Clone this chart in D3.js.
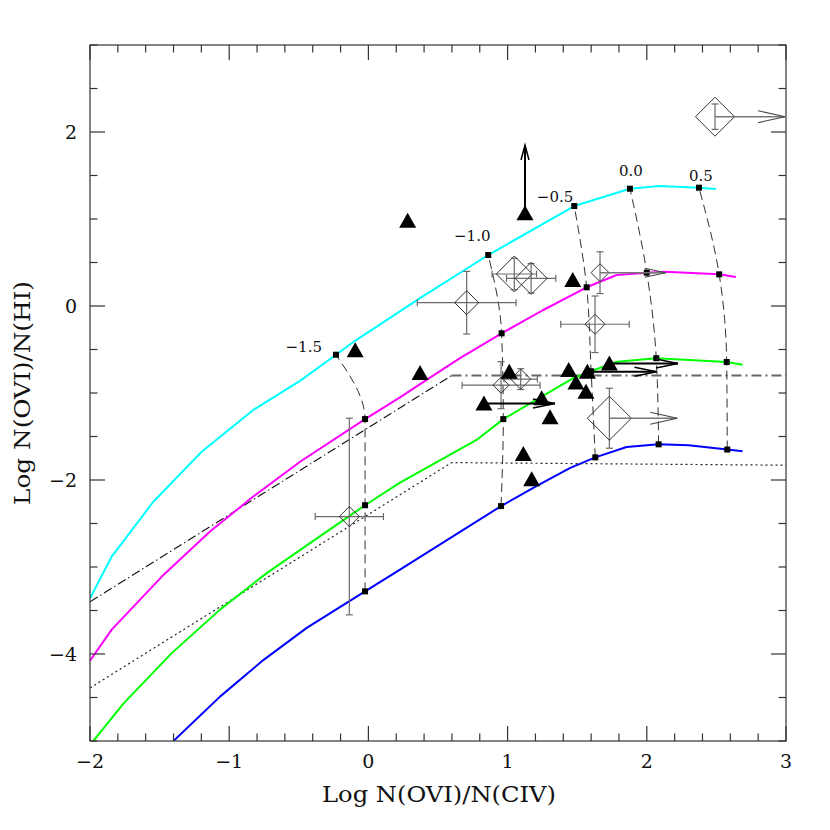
<!DOCTYPE html>
<html><head><meta charset="utf-8">
<script src="https://cdn.jsdelivr.net/npm/d3@7"></script>
<style>body{margin:0;background:#fff}svg{display:block}</style>
</head><body>
<script>
// ---------- data ----------
const xDomain = [-2, 3];
const yDomain = [-5, 3];
const xTickLabels = [-2, -1, 0, 1, 2, 3];
const yTickLabels = [-4, -2, 0, 2];

const curveCyan = [[-2,-3.36],[-1.844,-2.88],[-1.545,-2.25],[-1.198,-1.675],[-0.827,-1.195],[-0.491,-0.86],[-0.233,-0.56],[-0.096,-0.40],[0.371,0.09],[0.861,0.586],[1.479,1.149],[1.879,1.348],[2.09,1.38],[2.375,1.36],[2.497,1.345]];
const curveMagenta = [[-2,-4.077],[-1.844,-3.72],[-1.484,-3.11],[-1.136,-2.59],[-0.827,-2.19],[-0.491,-1.79],[-0.024,-1.30],[0.227,-1.05],[0.418,-0.85],[0.658,-0.60],[0.957,-0.314],[1.256,-0.046],[1.568,0.215],[1.783,0.356],[2.0,0.383],[2.13,0.394],[2.52,0.364],[2.64,0.333]];
const curveGreen = [[-1.976,-5.0],[-1.76,-4.57],[-1.413,-3.99],[-1.066,-3.49],[-0.73,-3.07],[-0.396,-2.70],[-0.024,-2.29],[0.227,-2.03],[0.777,-1.54],[0.969,-1.30],[1.472,-0.83],[1.60,-0.75],[1.785,-0.64],[2.068,-0.60],[2.574,-0.644],[2.688,-0.675]];
const curveBlue = [[-1.40,-5.0],[-1.066,-4.49],[-0.755,-4.07],[-0.443,-3.70],[-0.024,-3.28],[0.227,-3.03],[0.953,-2.30],[1.22,-2.06],[1.45,-1.86],[1.63,-1.74],[1.855,-1.62],[2.085,-1.59],[2.3,-1.60],[2.578,-1.65],[2.688,-1.67]];

const dashDotLine = [[-2,-3.40],[0.597,-0.80],[3,-0.80]];
const dottedLine = [[-2,-4.39],[0.598,-1.80],[3,-1.83]];

const gridLabels = ["\u22121.5","\u22121.0","\u22120.5","0.0","0.5"];
const gridNodes = [
  [[-0.233,-0.56],[-0.024,-1.30],[-0.024,-2.29],[-0.024,-3.28]],
  [[0.861,0.586],[0.957,-0.314],[0.969,-1.30],[0.953,-2.30]],
  [[1.479,1.149],[1.568,0.215],[1.60,-0.75],[1.63,-1.74]],
  [[1.879,1.348],[2.0,0.383],[2.068,-0.60],[2.085,-1.59]],
  [[2.375,1.36],[2.52,0.364],[2.574,-0.644],[2.578,-1.65]]
];

const triangles = [[0.282,0.98],[1.125,1.065],[-0.095,-0.51],[0.371,-0.77],[1.468,0.30],[1.012,-0.755],[0.83,-1.12],[1.245,-1.06],[1.305,-1.28],[1.439,-0.736],[1.573,-0.755],[1.491,-0.88],[1.563,-0.985],[1.731,-0.66],[1.113,-1.70],[1.173,-1.99]];
// lower limits: [x, y, limit end]
const triUpperArrows = [[1.125,1.065,1.85]];
const triRightArrows = [[0.83,-1.12,1.34],[1.573,-0.755,2.07],[1.731,-0.66,2.224]];

// diamonds: x, y, x-error, y-error
const diamondX  = [0.706,1.048,1.169,1.664,1.628,0.953,1.094,1.731,-0.137,2.49];
const diamondY  = [0.038,0.368,0.318,0.383,-0.21,-0.91,-0.84,-1.29,-2.42,2.176];
const diamondEX = [0.355,0.16,0.177,0,0.246,0.28,0.12,0,0.245,0];
const diamondEY = [0.36,0.18,0.17,0.24,0.325,0.27,0.12,0.345,1.13,0.146];
const diamondWeight = [12,18,16,9,10,8,10,22,10,19.5];
// diamonds that are lower limits in x: [index, limit end]
const diamondRightArrows = [[3,2.143],[7,2.226],[9,3.0]];

// ---------- layout ----------
const W = 830, H = 830;
const L = 90, R = 786, T = 45, B = 741;
const labelOffsets = [[-14,-3,"end"],[-16,-14,"middle"],[-1,-4,"end"],[1,-13,"middle"],[2,-7,"middle"]];

const svg = d3.select("body").append("svg").attr("width", W).attr("height", H)
  .style("font-family", "'DejaVu Serif', 'Liberation Serif', serif");

const x = d3.scaleLinear().domain(xDomain).range([L, R]);
const y = d3.scaleLinear().domain(yDomain).range([B, T]);
const sz = d3.scaleLinear().domain([0, 22]).range([0, 22]);

svg.append("defs").append("clipPath").attr("id", "clip")
  .append("rect").attr("x", L).attr("y", T).attr("width", R - L).attr("height", B - T);

const plot = svg.append("g").attr("clip-path", "url(#clip)");
const line = d3.line().x(d => x(d[0])).y(d => y(d[1]));

// reference lines
plot.append("path").attr("d", line(dashDotLine.slice(0, 2))).attr("fill", "none")
  .attr("stroke", "#111").attr("stroke-width", 1.1).attr("stroke-dasharray", "9,3,1.5,3");
plot.append("path").attr("d", line(dashDotLine.slice(1))).attr("fill", "none")
  .attr("stroke", "#666").attr("stroke-width", 2).attr("stroke-dasharray", "10,4,2,4");
plot.append("path").attr("d", line(dottedLine)).attr("fill", "none")
  .attr("stroke", "#222").attr("stroke-width", 1.2).attr("stroke-dasharray", "2,3");

// grid dashed lines
const gridLine = d3.line().x(d => x(d[0])).y(d => y(d[1])).curve(d3.curveMonotoneY);
gridNodes.forEach(nodes => {
  plot.append("path").attr("d", gridLine(nodes.slice().reverse())).attr("fill", "none")
    .attr("stroke", "#333").attr("stroke-width", 1).attr("stroke-dasharray", "9,5");
});

// model curves
[[curveCyan, "#00ffff"], [curveMagenta, "#ff00ff"], [curveGreen, "#00ff00"], [curveBlue, "#0000ff"]]
  .forEach(([data, col]) => {
    plot.append("path").attr("d", line(data)).attr("fill", "none")
      .attr("stroke", col).attr("stroke-width", 2).attr("stroke-linejoin", "round");
  });

// grid markers
gridNodes.forEach(nodes => nodes.forEach(d => {
  plot.append("rect").attr("x", x(d[0]) - 3).attr("y", y(d[1]) - 3)
    .attr("width", 6).attr("height", 6).attr("fill", "#000");
}));
// grid labels
gridLabels.forEach((lab, i) => {
  const n = gridNodes[i][0];
  const o = labelOffsets[i];
  svg.append("text").attr("x", x(n[0]) + o[0]).attr("y", y(n[1]) + o[1])
    .attr("text-anchor", o[2]).attr("font-size", 15).attr("fill", "#111").text(lab);
});

function arrowHead(g, tx, ty, dx, dy, len, hw, col, sw) {
  const px = -dy, py = dx;
  g.append("polyline")
    .attr("points", [[tx - len*dx + hw*px, ty - len*dy + hw*py], [tx, ty], [tx - len*dx - hw*px, ty - len*dy - hw*py]].map(p => p.join(",")).join(" "))
    .attr("fill", "none").attr("stroke", col).attr("stroke-width", sw);
}

// diamonds with error bars
const eCol = "#6a6a6a", cap = 3.5;
diamondX.forEach((dx0, i) => {
  const cx = x(dx0), cy = y(diamondY[i]);
  const g = plot.append("g");
  if (diamondEX[i] > 0) {
    const x1 = x(dx0 - diamondEX[i]), x2 = x(dx0 + diamondEX[i]);
    g.append("line").attr("x1", x1).attr("x2", x2).attr("y1", cy).attr("y2", cy).attr("stroke", eCol).attr("stroke-width", 1.2);
    [x1, x2].forEach(xx => g.append("line").attr("x1", xx).attr("x2", xx).attr("y1", cy - cap).attr("y2", cy + cap).attr("stroke", eCol).attr("stroke-width", 1.2));
  }
  if (diamondEY[i] > 0) {
    const y1 = y(diamondY[i] - diamondEY[i]), y2 = y(diamondY[i] + diamondEY[i]);
    g.append("line").attr("x1", cx).attr("x2", cx).attr("y1", y1).attr("y2", y2).attr("stroke", eCol).attr("stroke-width", 1.2);
    [y1, y2].forEach(yy => g.append("line").attr("x1", cx - cap).attr("x2", cx + cap).attr("y1", yy).attr("y2", yy).attr("stroke", eCol).attr("stroke-width", 1.2));
  }
  const s = sz(diamondWeight[i]);
  g.append("path").attr("d", `M${cx},${cy - s}L${cx + s},${cy}L${cx},${cy + s}L${cx - s},${cy}Z`)
    .attr("fill", "none").attr("stroke", "#333").attr("stroke-width", 1);
});
diamondRightArrows.forEach(([i, xe]) => {
  const cx = x(diamondX[i]), cy = y(diamondY[i]), tx = x(xe) - 1;
  plot.append("line").attr("x1", cx).attr("x2", tx).attr("y1", cy).attr("y2", cy)
    .attr("stroke", "#777").attr("stroke-width", 1.5);
  const big = diamondWeight[i] > 15;
  arrowHead(plot, tx, cy, 1, 0, big ? 27 : 21, big ? 6 : 4.5, "#444", 1.1);
});

// triangle limits
triUpperArrows.forEach(d => {
  const cx = x(d[0]), y1 = y(d[1]), y2 = y(d[2]);
  svg.append("line").attr("x1", cx).attr("x2", cx).attr("y1", y1).attr("y2", y2).attr("stroke", "#000").attr("stroke-width", 2);
  arrowHead(svg, cx, y2, 0, -1, 15, 4, "#000", 1.5);
});
triRightArrows.forEach(d => {
  const cy = y(d[1]), x1 = x(d[0]), x2 = x(d[2]);
  svg.append("line").attr("x1", x1).attr("x2", x2).attr("y1", cy).attr("y2", cy).attr("stroke", "#000").attr("stroke-width", 2);
  arrowHead(svg, x2, cy, 1, 0, 22, 4.5, "#000", 1.6);
});

// triangles
svg.append("g").selectAll("path").data(triangles).join("path")
  .attr("d", d => `M${x(d[0])},${y(d[1]) - 8}L${x(d[0]) + 8.5},${y(d[1]) + 7}L${x(d[0]) - 8.5},${y(d[1]) + 7}Z`)
  .attr("fill", "#000");

// ---------- frame & ticks ----------
const frame = svg.append("g").attr("stroke", "#333").attr("stroke-width", 1.2);
frame.append("rect").attr("x", L).attr("y", T).attr("width", R - L).attr("height", B - T).attr("fill", "none");
const xMinor = d3.range(-2, 3.0001, 0.2);
xMinor.forEach(v => {
  const major = Math.abs(v - Math.round(v)) < 1e-6;
  const len = major ? 15 : 7.5;
  frame.append("line").attr("x1", x(v)).attr("x2", x(v)).attr("y1", B).attr("y2", B - len);
  frame.append("line").attr("x1", x(v)).attr("x2", x(v)).attr("y1", T).attr("y2", T + len);
});
const yMinor = d3.range(-5, 3.0001, 0.5);
yMinor.forEach(v => {
  const major = Math.abs(v / 2 - Math.round(v / 2)) < 1e-6;
  const len = major ? 15 : 7.5;
  frame.append("line").attr("y1", y(v)).attr("y2", y(v)).attr("x1", L).attr("x2", L + len);
  frame.append("line").attr("y1", y(v)).attr("y2", y(v)).attr("x1", R).attr("x2", R - len);
});

const fmt = v => (v < 0 ? "\u2212" + Math.abs(v) : String(v));
svg.append("g").selectAll("text").data(xTickLabels).join("text")
  .attr("x", d => x(d)).attr("y", 768).attr("text-anchor", "middle")
  .attr("font-size", 19).attr("fill", "#111").text(fmt);
svg.append("g").selectAll("text").data(yTickLabels).join("text")
  .attr("x", 77).attr("y", d => y(d) + 7).attr("text-anchor", "end")
  .attr("font-size", 19).attr("fill", "#111").text(fmt);

svg.append("text").attr("x", 439).attr("y", 802).attr("text-anchor", "middle")
  .attr("font-size", 22).attr("fill", "#111")
  .attr("textLength", 234).attr("lengthAdjust", "spacingAndGlyphs")
  .text("Log N(OVI)/N(CIV)");
svg.append("text").attr("transform", "translate(30,393) rotate(-90)").attr("text-anchor", "middle")
  .attr("font-size", 22).attr("fill", "#111")
  .attr("textLength", 224).attr("lengthAdjust", "spacingAndGlyphs")
  .text("Log N(OVI)/N(HI)");
</script>
</body></html>
